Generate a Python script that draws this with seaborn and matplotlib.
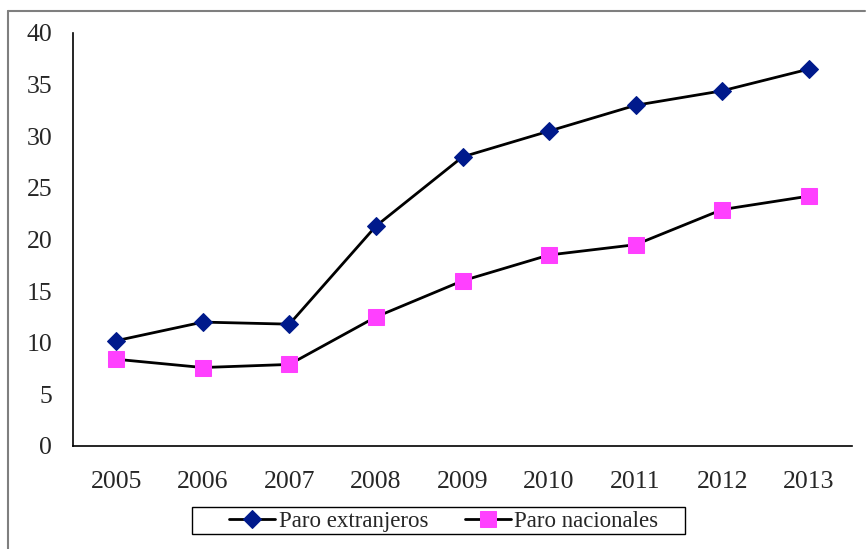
import pandas as pd
import matplotlib.pyplot as plt
import seaborn as sns
from matplotlib.lines import Line2D
from matplotlib.patches import Rectangle

# Datos
anios = ['2005', '2006', '2007', '2008', '2009', '2010', '2011', '2012', '2013']
paro_extranjeros = [10.2, 12.0, 11.8, 21.3, 28.0, 30.5, 33.0, 34.4, 36.5]
paro_nacionales = [8.4, 7.6, 7.9, 12.5, 16.0, 18.5, 19.5, 22.9, 24.2]

df = pd.DataFrame({'pos': range(len(anios)),
                   'anio': anios,
                   'Paro extranjeros': paro_extranjeros,
                   'Paro nacionales': paro_nacionales})

sns.set_style('white')
plt.rcParams['font.family'] = ['Liberation Serif', 'DejaVu Serif']

fig = plt.figure(figsize=(8.67, 5.49), dpi=100)
ax = fig.add_axes([73 / 867, 1 - 446 / 549, (852 - 73) / 867, (446 - 33) / 549])

sns.lineplot(data=df, x='pos', y='Paro extranjeros', ax=ax, color='black',
             linewidth=2, marker='D', markersize=9, markerfacecolor='#001a8c',
             markeredgecolor='#001a8c', label='Paro extranjeros')
sns.lineplot(data=df, x='pos', y='Paro nacionales', ax=ax, color='black',
             linewidth=2, marker='s', markersize=12, markerfacecolor='#ff40ff',
             markeredgecolor='#ff40ff', label='Paro nacionales')

ax.set_xlim(-0.5, len(anios) - 0.5)
ax.set_ylim(0, 40)
ax.set_yticks(range(0, 41, 5))
# marcas entre categorias, etiquetas centradas (estilo Excel)
ax.set_xticks([i - 0.5 for i in range(len(anios) + 1)])
ax.set_xticklabels([])
ax.set_xticks(range(len(anios)), minor=True)
ax.set_xticklabels(anios, minor=True)
ax.tick_params(axis='x', which='major', direction='out', length=4.5, width=1, color='black')
ax.tick_params(axis='x', which='minor', length=0, pad=18, labelsize=18.5)
ax.tick_params(axis='y', direction='out', length=4, width=1, color='black', pad=11, labelsize=18.5)
ax.set_xlabel('')
ax.set_ylabel('')

for s in ['top', 'right']:
    ax.spines[s].set_visible(False)
for s in ['left', 'bottom']:
    ax.spines[s].set_color('black')
    ax.spines[s].set_linewidth(1.2)

ax.get_legend().remove()
handles, labels = ax.get_legend_handles_labels()
leg = fig.legend(handles, labels, loc='center', bbox_to_anchor=(0.512, 0.050),
                 ncol=2, fontsize=16.5, frameon=False, handlelength=2.0,
                 handletextpad=0.15, columnspacing=1.6, borderaxespad=0)

# recuadro de la leyenda
fig.add_artist(Rectangle((192 / 867, 1 - 534 / 549), (685 - 192) / 867, 27 / 549,
                         transform=fig.transFigure, fill=False,
                         edgecolor='black', linewidth=1.0))

# marco exterior del grafico
fig.add_artist(Line2D([8 / 867, 865 / 867], [1 - 11 / 549, 1 - 11 / 549],
                      transform=fig.transFigure, color='#7f7f7f', linewidth=1.5))
fig.add_artist(Line2D([8 / 867, 8 / 867], [0, 1 - 11 / 549],
                      transform=fig.transFigure, color='#7f7f7f', linewidth=1.5))

fig.savefig('out.png', dpi=100)
